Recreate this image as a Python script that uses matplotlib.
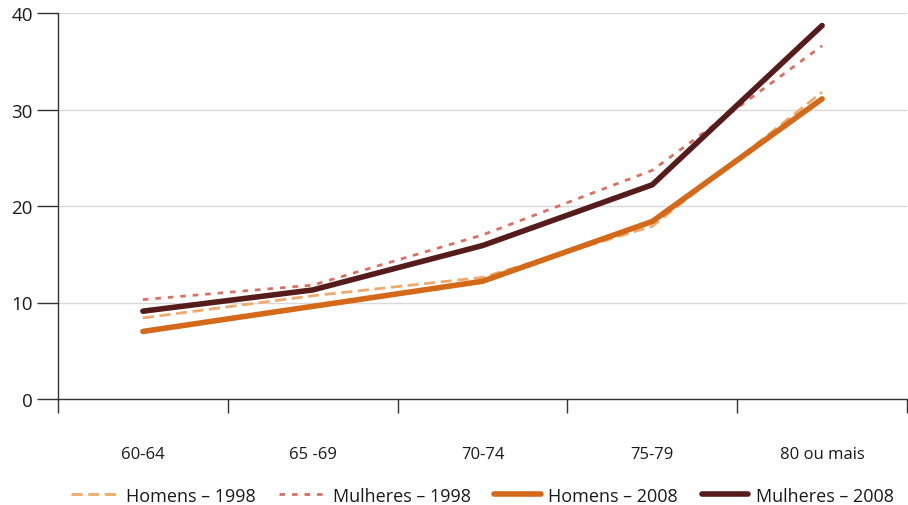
import matplotlib
matplotlib.use('Agg')
import matplotlib.pyplot as plt
import numpy as np

plt.rcParams['font.family'] = ['Open Sans', 'DejaVu Sans']
plt.rcParams['text.color'] = '#1a1a1a'

grupos = ['60-64', '65 -69', '70-74', '75-79', '80 ou mais']
homens_1998 = [8.4, 10.7, 12.6, 17.9, 31.8]
mulheres_1998 = [10.3, 11.8, 17.0, 23.7, 36.6]
homens_2008 = [7.0, 9.6, 12.2, 18.4, 31.1]
mulheres_2008 = [9.1, 11.3, 15.9, 22.2, 38.7]

x = np.arange(len(grupos))

fig = plt.figure(figsize=(9.08, 5.06), dpi=100)
ax = fig.add_axes([58 / 908, 106 / 506, 849 / 908, 386 / 506])

ax.plot(x, homens_1998, color='#efaa6c', lw=2, ls=(0, (4, 2)), label='Homens \u2013 1998')
ax.plot(x, mulheres_1998, color='#dc6e62', lw=2, ls=(0, (2, 2.5)), label='Mulheres \u2013 1998')
ax.plot(x, homens_2008, color='#d4691a', lw=4, solid_capstyle='round', label='Homens \u2013 2008')
ax.plot(x, mulheres_2008, color='#561c1c', lw=4, solid_capstyle='round', label='Mulheres \u2013 2008')

ax.set_xlim(-0.5, len(grupos) - 0.5)
ax.set_ylim(0, 40)
ax.set_yticks([0, 10, 20, 30, 40])
ax.yaxis.grid(True, color='#d9d9d9', lw=1)
ax.set_axisbelow(True)

ax.set_xticks(x)
ax.set_xticklabels(grupos, fontsize=12, color='#1a1a1a')
ax.set_xticks(np.arange(-0.5, len(grupos)), minor=True)
ax.tick_params(axis='x', which='major', length=0, pad=34)
ax.tick_params(axis='x', which='minor', length=10, width=1, color='#333333')
ax.tick_params(axis='y', length=15, width=1, color='#333333', labelsize=13.5, pad=3,
               labelcolor='#1a1a1a')

for s in ['top', 'right']:
    ax.spines[s].set_visible(False)
for s in ['left', 'bottom']:
    ax.spines[s].set_color('#333333')
    ax.spines[s].set_linewidth(1)

ax.legend(loc='upper center', bbox_to_anchor=(0.5, -0.185), ncol=4, frameon=False,
          fontsize=13, handlelength=2.6, columnspacing=1.3, handletextpad=0.4)

fig.savefig('out.png', dpi=100)
